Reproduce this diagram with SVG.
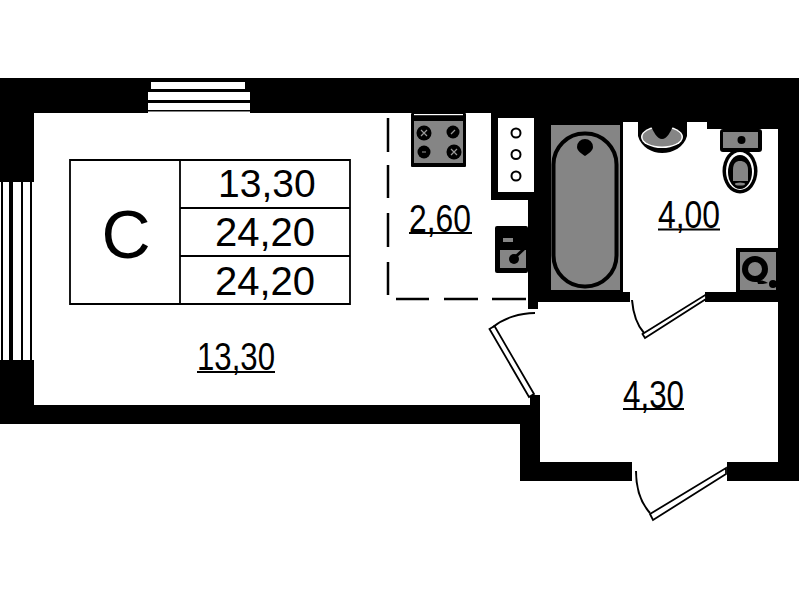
<svg xmlns="http://www.w3.org/2000/svg" width="799" height="600" viewBox="0 0 799 600">
<style>
.g{fill:#858585}
.k{fill:#000}
.w{fill:#fff}
.n{fill:none;stroke:#000;stroke-width:2}
.dash{stroke:#000;stroke-width:2.5;fill:none}
.leaf{fill:#fff;stroke:#000;stroke-width:1.800}
.t{font-family:"Liberation Sans",Arial,sans-serif;fill:#000}
.cell{font-size:40px;text-anchor:middle}
.lab{font-size:39px}
.ul{stroke:#000;stroke-width:2}
</style>
<rect width="799" height="600" fill="#fff"/>
<g id="walls">
<path class="k" d="M0 78H799V481H727V462H632V481H520V424H0Z"/>
<path class="w" d="M34 113H491V200H528V309H538V302H630V292H623V122H707V129H778V292H705V302H778V462H540V395H530V405H34Z"/>
<rect class="w" x="498" y="118" width="36" height="74"/>
</g>
<g id="window-top">
<rect class="k" x="148" y="78" width="102" height="35"/>
<rect class="w" x="151" y="82" width="94" height="7"/>
<rect class="w" x="148" y="92" width="102" height="8"/>
<rect class="w" x="148" y="103" width="102" height="7"/>
<rect class="w" x="148" y="111.500" width="102" height="1.500"/>
</g>
<g id="window-left">
<rect class="w" x="0" y="182" width="34" height="178"/>
<rect class="k" x="1" y="182" width="2" height="178"/>
<rect class="k" x="9" y="182" width="4" height="178"/>
<rect class="k" x="21" y="182" width="2" height="180"/>
<rect class="k" x="30" y="182" width="2" height="180"/>
</g>
<g id="shaft">
<circle class="n" cx="516" cy="133" r="4.500"/>
<circle class="n" cx="516" cy="154.500" r="4.500"/>
<circle class="n" cx="516" cy="176" r="4.500"/>
</g>
<g id="stove">
<rect class="k" x="411" y="113" width="55" height="54" rx="1"/>
<rect class="w" x="414" y="114" width="49" height="1.200"/>
<rect class="g" x="414" y="121" width="49" height="42"/>
<circle class="k" cx="424" cy="133" r="7.500"/>
<circle class="k" cx="453" cy="132" r="6.500"/>
<circle class="k" cx="424" cy="152" r="6.500"/>
<circle class="k" cx="454" cy="152" r="7.500"/>
<path d="M421 130l6 6m0-6l-6 6M451 134l4-4M422 152h4M451 149l6 6m0-6l-6 6" stroke="#999" stroke-width="1.200" fill="none"/>
</g>
<g id="sink">
<rect class="k" x="495" y="226" width="33" height="47" rx="2"/>
<rect class="g" x="503" y="238" width="10" height="4"/>
<rect class="g" x="500" y="250" width="26" height="18"/>
<circle class="k" cx="514" cy="259" r="5"/>
<path d="M512 260L525 248" stroke="#000" stroke-width="3"/>
</g>
<g id="bath">
<rect class="g" x="551" y="125" width="69" height="165"/>
<rect x="553.500" y="133.500" width="63" height="153" rx="31" fill="none" stroke="#000" stroke-width="4"/>
<path class="k" d="M577 147a8 8 0 0 1 16 0c0 4-5 7-8 9c-3-2-8-5-8-9Z"/>
</g>
<g id="washbasin">
<path class="k" d="M638 122V136C641 147 652 153 662 153C673 153 684 147 687 136V122Z"/>
<ellipse class="w" cx="662" cy="137" rx="21" ry="11"/>
<ellipse class="g" cx="662" cy="137" rx="19.500" ry="9.500"/>
<path class="k" d="M651 126H673C671 131 667 139 662 139C657 139 653 131 651 126Z"/>
</g>
<g id="toilet">
<rect class="k" x="720" y="129" width="42" height="23" rx="3"/>
<rect class="g" x="723" y="132" width="35" height="16"/>
<circle class="k" cx="741.500" cy="140" r="4"/>
<ellipse class="k" cx="740" cy="171" rx="17.500" ry="22.500"/>
<ellipse class="w" cx="740" cy="171" rx="14" ry="19"/>
<ellipse class="k" cx="740" cy="172" rx="12" ry="17"/>
<path class="g" d="M733 170C733 163 736 161 740 161C744 161 748 163 748 170V181H733Z"/>
<ellipse class="g" cx="740" cy="184" rx="5" ry="1.500"/>
</g>
<g id="washer">
<rect class="k" x="736" y="248" width="42" height="44"/>
<rect class="g" x="740" y="252" width="36" height="38"/>
<circle class="k" cx="755" cy="269" r="13"/>
<circle class="g" cx="755" cy="269" r="7"/>
<circle class="k" cx="773" cy="284" r="4"/>
<path class="k" d="M757 281C762 280 765 281 768 283L763 284H758Z"/>
</g>
<g id="dashes">
<path class="dash" d="M388 118V152M388 165V198M388 213V247M388 262V295M396 299H429M444 299H478M492 299H526"/>
</g>
<g id="doors">
<path class="leaf" d="M489.500 329L494.500 326L534 394L529 397Z"/>
<path class="n" d="M493 327C504 318 520 313 535 313"/>
<path class="leaf" d="M642.500 334L706 294.500L706 299L645 338Z"/>
<path class="n" d="M632 300C633 312 637 325 644 333"/>
<path class="leaf" d="M650 514L726 468L726 474L653 520Z"/>
<path class="n" d="M636 471C636 488 641 503 650 513"/>
</g>
<g id="legend">
<path fill="none" stroke="#000" stroke-width="1.800" d="M70 160H350V304H70ZM180 160V304M180 208H350M180 256H350"/>
<text class="t" x="126" y="258" font-size="68" text-anchor="middle">С</text>
<text class="t" x="218" y="197" font-size="39">13,30</text>
<text class="t cell" x="265" y="246">24,20</text>
<text class="t cell" x="265" y="295">24,20</text>
</g>
<g id="labels">
<text class="t lab" x="197" y="370" textLength="78" lengthAdjust="spacingAndGlyphs">13,30</text>
<line class="ul" x1="197" y1="372" x2="275" y2="372"/>
<text class="t lab" x="409" y="232" textLength="62" lengthAdjust="spacingAndGlyphs">2,60</text>
<line class="ul" x1="409" y1="233" x2="472" y2="233"/>
<text class="t lab" x="658" y="228" textLength="62" lengthAdjust="spacingAndGlyphs">4,00</text>
<line class="ul" x1="658" y1="229.500" x2="720" y2="229.500"/>
<text class="t lab" x="623" y="408" textLength="61" lengthAdjust="spacingAndGlyphs">4,30</text>
<line class="ul" x1="623" y1="409" x2="684" y2="409"/>
</g>
</svg>
